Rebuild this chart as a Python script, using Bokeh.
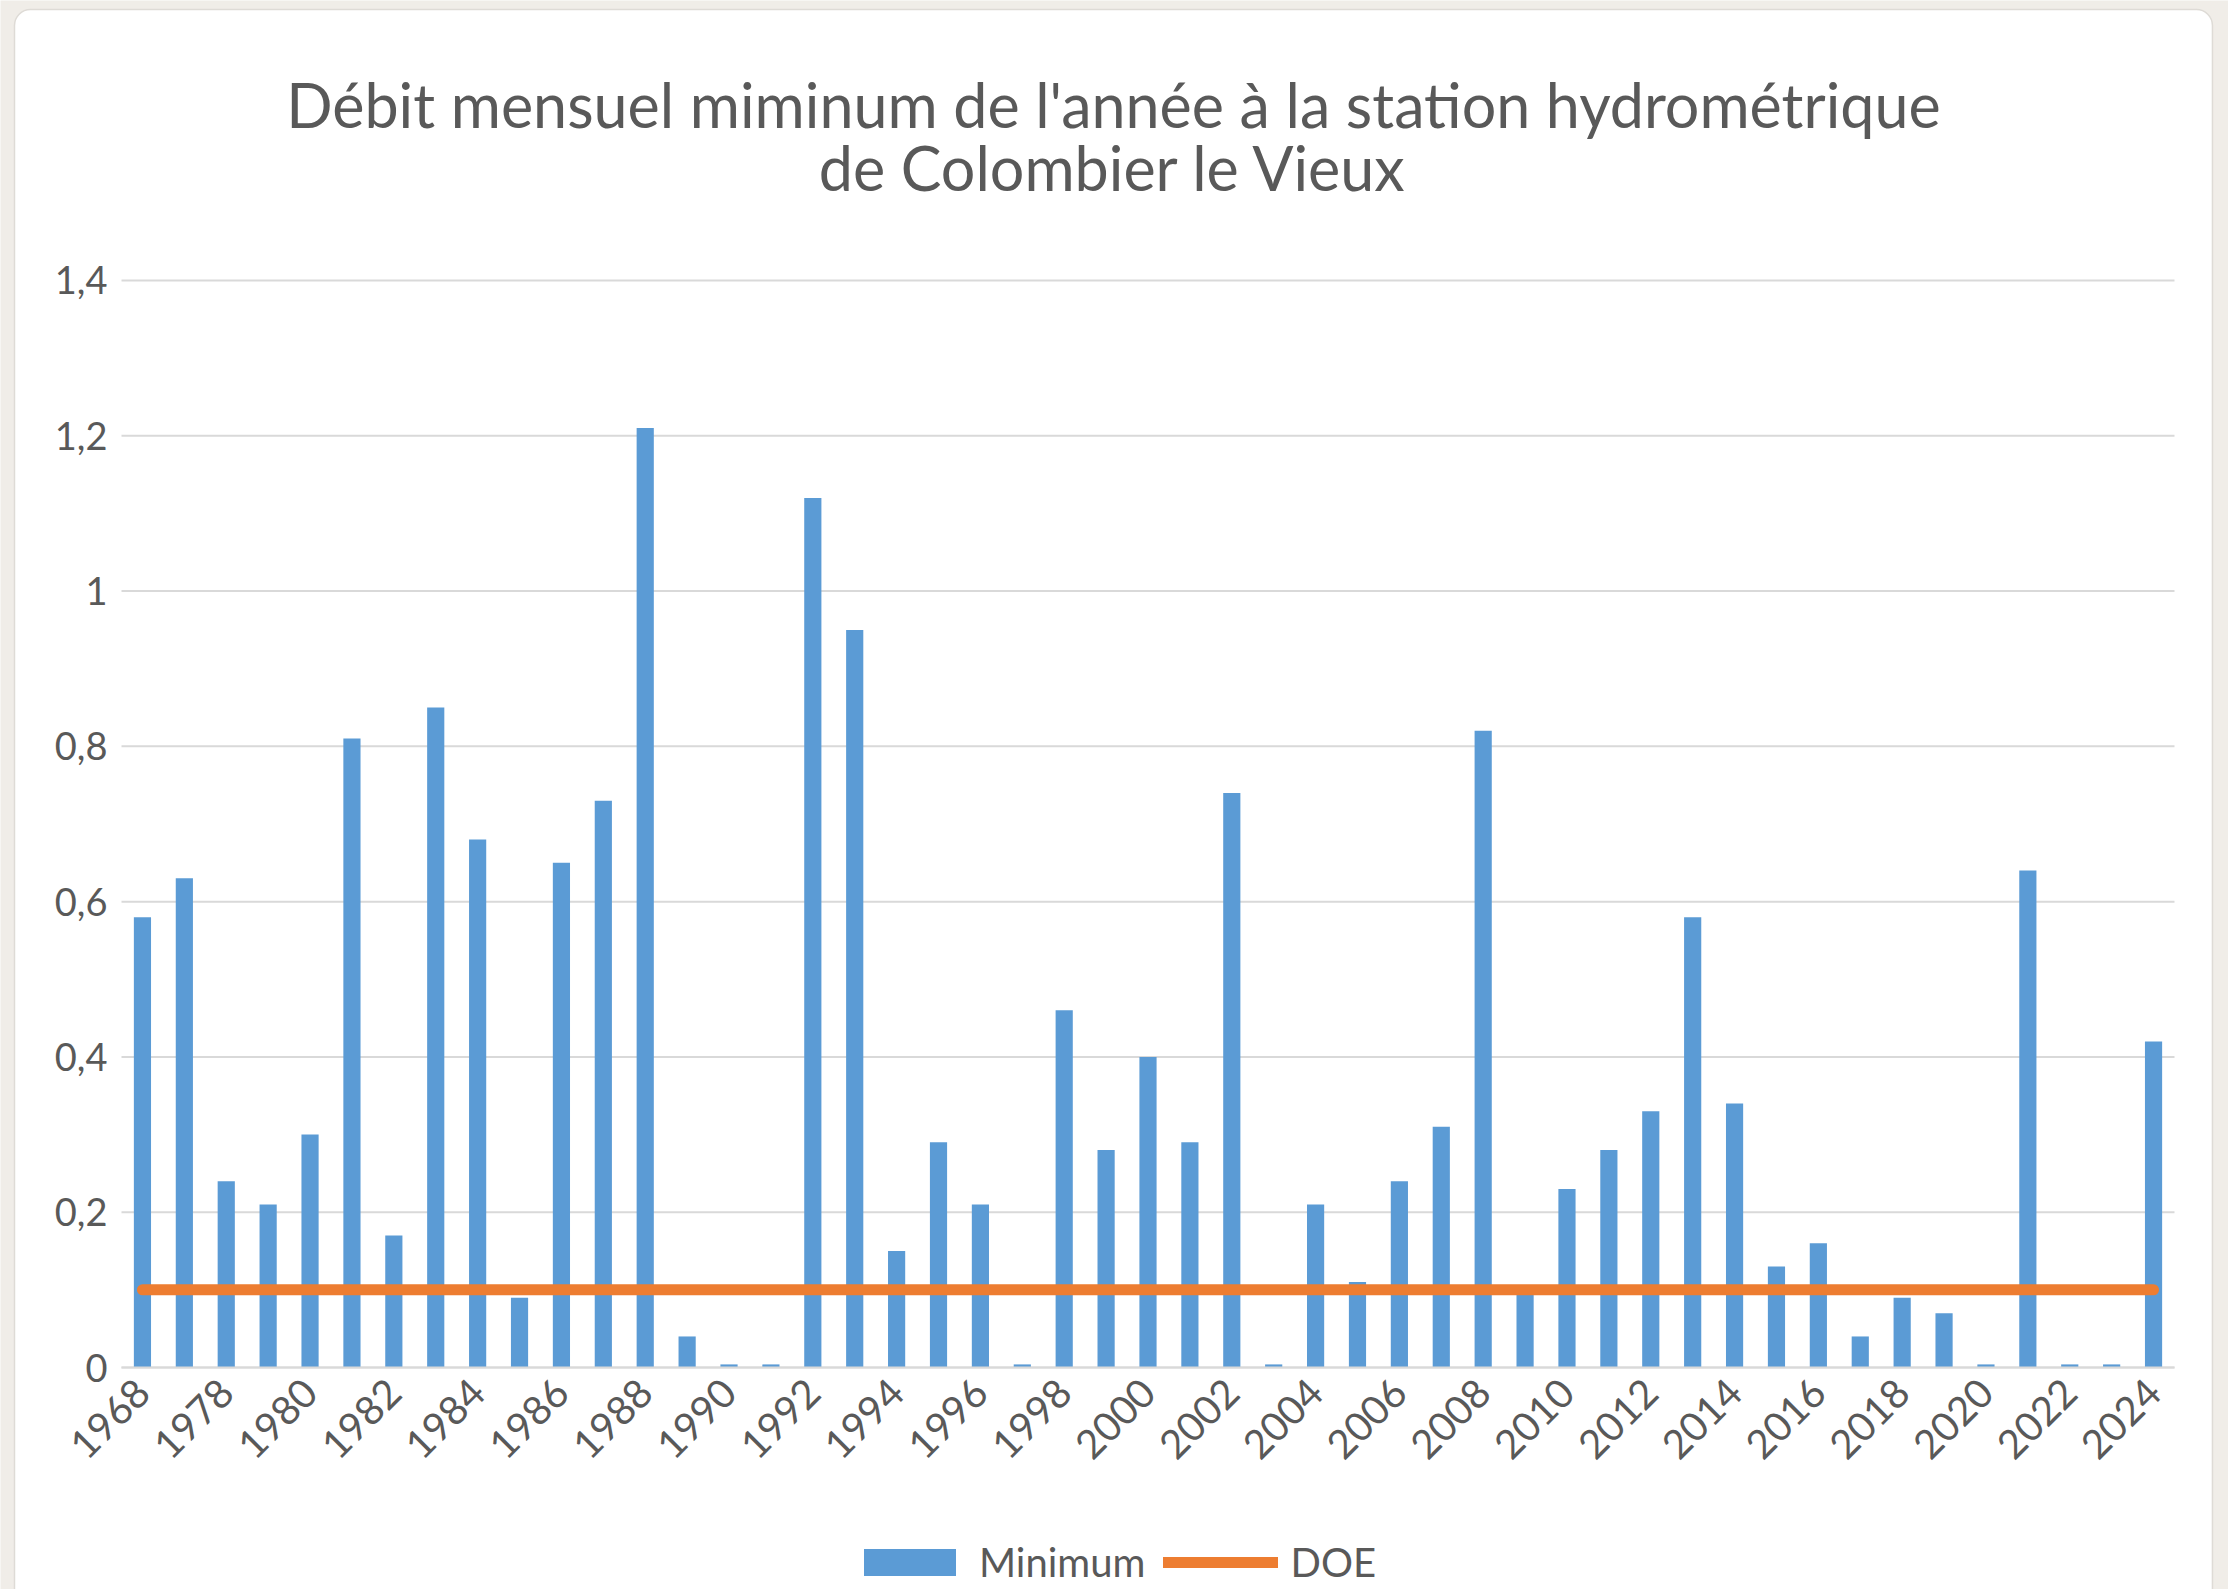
import math
from bokeh.plotting import figure
from bokeh.models import (ColumnDataSource, Range1d, FixedTicker,
                          Legend, LegendItem, Label)
from bokeh.embed import file_html
from bokeh.resources import INLINE

# ---------------- data ----------------
years = ["1968", "1977", "1978", "1979", "1980", "1981", "1982", "1983", "1984",
         "1985", "1986", "1987", "1988", "1989", "1990", "1991", "1992", "1993",
         "1994", "1995", "1996", "1997", "1998", "1999", "2000", "2001", "2002",
         "2003", "2004", "2005", "2006", "2007", "2008", "2009", "2010", "2011",
         "2012", "2013", "2014", "2015", "2016", "2017", "2018", "2019", "2020",
         "2021", "2022", "2023", "2024"]
minimum = [0.58, 0.63, 0.24, 0.21, 0.30, 0.81, 0.17, 0.85, 0.68,
           0.09, 0.65, 0.73, 1.21, 0.04, 0.004, 0.004, 1.12, 0.95,
           0.15, 0.29, 0.21, 0.004, 0.46, 0.28, 0.40, 0.29, 0.74,
           0.004, 0.21, 0.11, 0.24, 0.31, 0.82, 0.10, 0.23, 0.28,
           0.33, 0.58, 0.34, 0.13, 0.16, 0.04, 0.09, 0.07, 0.004,
           0.64, 0.004, 0.004, 0.42]
doe_value = 0.1
doe = [doe_value for _ in years]
y_ticks = [0.0, 0.2, 0.4, 0.6, 0.8, 1.0, 1.2, 1.4]
y_tick_labels = ["0", "0,2", "0,4", "0,6", "0,8", "1", "1,2", "1,4"]
title_lines = ["Débit mensuel miminum de l'année à la station hydrométrique",
               "de Colombier le Vieux"]
series_names = ["Minimum", "DOE"]

# category positions (one slot per year) and the labels actually shown
pos = list(range(len(years)))
label_pos = pos[::2]                    # only every other category is labelled
x_first, x_last = -0.5, len(years) - 0.5

# ---------------- styles ----------------
FONT = "Lato"
TEXT = "#595959"
GRID = "#d9d9d9"
BLUE = "#5B9BD5"
ORANGE = "#ED7D31"
PAGE_BG = "#f0ede8"

src = ColumnDataSource(dict(x=pos, year=years, minimum=minimum, doe=doe))

# The frame covers the whole canvas; axes are fixed at the first slot edge
# and at y = 0, so title, tick labels and legend all sit inside it.
X_LEFT, X_RIGHT = -3.388, 49.789
Y_TOP, Y_BOTTOM = 1.7606, -0.2859
p = figure(width=2228, height=1589,
           x_range=Range1d(X_LEFT, X_RIGHT),
           y_range=Range1d(Y_BOTTOM, Y_TOP),
           output_backend="svg", toolbar_location=None, title=None,
           min_border_left=0, min_border_right=0,
           min_border_top=0, min_border_bottom=0)
p.outline_line_color = None
p.background_fill_color = PAGE_BG
p.border_fill_color = PAGE_BG
p.xgrid.visible = False
p.ygrid.visible = False

# white rounded card behind the chart
card_kw = dict(left=[-3.054], right=[49.406], top=[1.749], bottom=[Y_BOTTOM - 0.2],
               fill_color="white", line_color="#dedbd6", line_width=1.5)
try:
    p.quad(border_radius=16, **card_kw)
except Exception:
    p.quad(**card_kw)

# horizontal grid lines over the category span
p.segment(x0=[x_first] * len(y_ticks), x1=[x_last] * len(y_ticks),
          y0=y_ticks, y1=y_ticks, line_color=GRID, line_width=2)

bars = p.vbar(x="x", top="minimum", bottom=0, width=0.41, source=src,
              fill_color=BLUE, line_color=None)
doe_line = p.line(x="x", y="doe", source=src, line_color=ORANGE,
                  line_width=11, line_cap="round")

# y axis
p.yaxis.fixed_location = x_first
p.yaxis.bounds = (y_ticks[0], y_ticks[-1])
p.yaxis.ticker = FixedTicker(ticks=y_ticks)
p.yaxis.major_label_overrides = {t: l for t, l in zip(y_ticks, y_tick_labels)}
p.yaxis.axis_line_color = None
p.yaxis.major_tick_line_color = None
p.yaxis.minor_tick_line_color = None
p.yaxis.major_label_text_font = FONT
p.yaxis.major_label_text_font_size = "38px"
p.yaxis.major_label_text_color = TEXT
p.yaxis.major_label_standoff = 8

# x axis at y = 0: every other year shown
p.xaxis.fixed_location = 0
p.xaxis.bounds = (x_first, x_last)
p.xaxis.ticker = FixedTicker(ticks=label_pos)
p.xaxis.major_label_overrides = {i: years[i] for i in label_pos}
p.xaxis.major_label_orientation = math.pi / 4
p.xaxis.axis_line_color = GRID
p.xaxis.axis_line_width = 2
p.xaxis.major_tick_line_color = None
p.xaxis.minor_tick_line_color = None
p.xaxis.major_label_text_font = FONT
p.xaxis.major_label_text_font_size = "40px"
p.xaxis.major_label_text_color = TEXT
p.xaxis.major_label_standoff = 12

# title (two centred lines)
for txt, yy in zip(title_lines, [1.6266, 1.5455]):
    p.add_layout(Label(x=23.176, y=yy, text=txt, text_align="center",
                       text_baseline="middle", text_font=FONT,
                       text_font_size="61px", text_color=TEXT))

legend = Legend(items=[LegendItem(label=series_names[0], renderers=[bars]),
                       LegendItem(label=series_names[1], renderers=[doe_line])],
                orientation="horizontal", location=(852, 3),
                glyph_width=115, glyph_height=34, label_standoff=12, spacing=18,
                padding=0, margin=0, border_line_color=None,
                background_fill_alpha=0, label_text_font=FONT,
                label_text_font_size="40px", label_text_color=TEXT)
p.add_layout(legend)

open("out.html", "w").write(file_html(p, INLINE))
